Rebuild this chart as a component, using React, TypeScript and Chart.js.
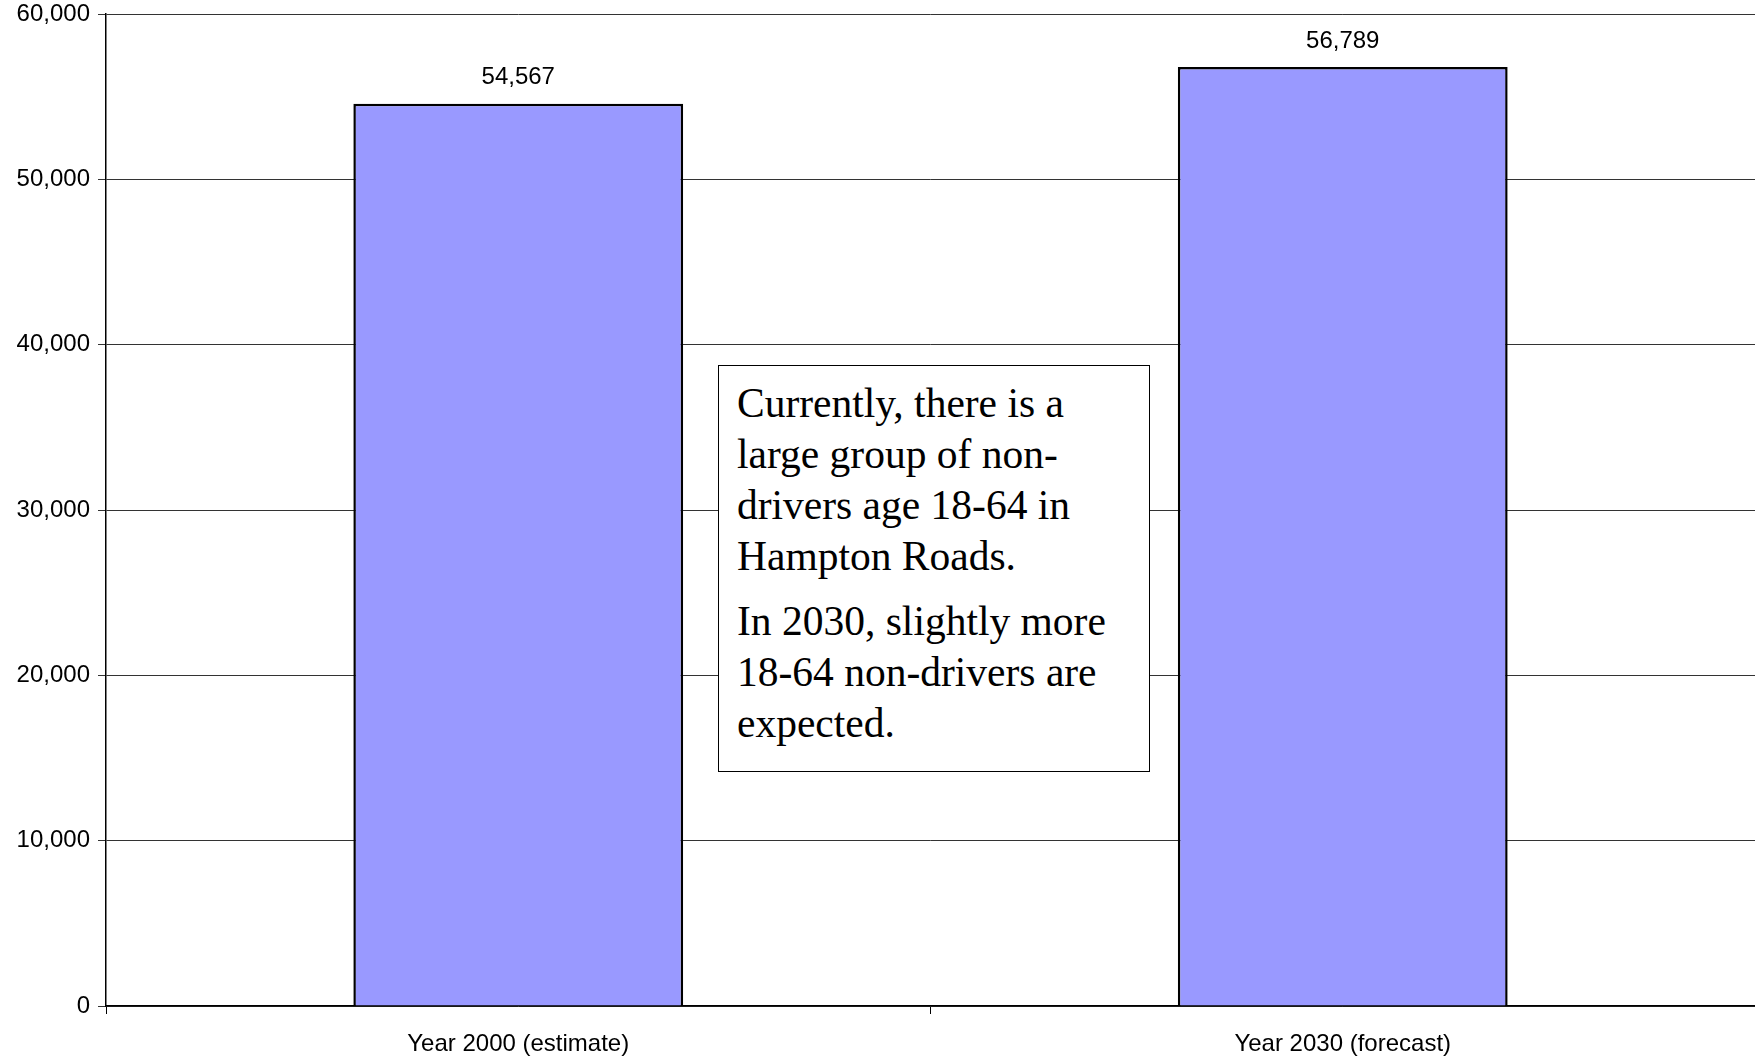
import React, { useEffect, useRef } from 'react';
import { Chart, registerables } from 'chart.js';

Chart.register(...registerables);

const categories = ['Year 2000 (estimate)', 'Year 2030 (forecast)'];
const nonDrivers = [54567, 56789];
const yTicks = [0, 10000, 20000, 30000, 40000, 50000, 60000];

const valueLabels = {
  id: 'valueLabels',
  afterDatasetsDraw(chart: any) {
    const ctx = chart.ctx;
    const meta = chart.getDatasetMeta(0);
    ctx.save();
    ctx.font = '24px Arial, "Liberation Sans", sans-serif';
    ctx.fillStyle = '#000';
    ctx.textAlign = 'center';
    ctx.textBaseline = 'bottom';
    meta.data.forEach((bar: any, i: number) => {
      ctx.fillText(nonDrivers[i].toLocaleString('en-US'), bar.x, bar.y - 14);
    });
    ctx.restore();
  },
};

const App: React.FC = () => {
  const chartRef = useRef<HTMLCanvasElement>(null);

  useEffect(() => {
    if (!chartRef.current) return;
    document.body.style.margin = '0';
    const chart = new Chart(chartRef.current, {
      type: 'bar',
      data: {
        labels: categories,
        datasets: [
          {
            data: nonDrivers,
            backgroundColor: '#9999ff',
            borderColor: '#000',
            borderWidth: 2.5,
            barPercentage: 0.4,
            categoryPercentage: 1,
          },
        ],
      },
      options: {
        animation: false,
        responsive: true,
        maintainAspectRatio: false,
        layout: { padding: { top: 14, right: 0, left: 0, bottom: 0 } },
        plugins: { legend: { display: false }, tooltip: { enabled: false } },
        scales: {
          x: {
            afterFit: (s: any) => { s.height = 56; },
            grid: { offset: true, drawOnChartArea: false, color: '#000', tickLength: 8 },
            border: { color: '#000', width: 1.5 },
            ticks: { color: '#000', font: { size: 24, family: 'Arial, "Liberation Sans", sans-serif' }, padding: 16 },
          },
          y: {
            min: 0,
            max: 60000,
            afterFit: (s: any) => {
              s.width = 106;
              s.paddingTop = 0;
              s.paddingBottom = 0;
            },
            afterBuildTicks: (s: any) => { s.ticks = yTicks.map((v) => ({ value: v })); },
            grid: { color: '#333', tickLength: 8 },
            border: { color: '#000', width: 1.5 },
            ticks: {
              color: '#000',
              font: { size: 24, family: 'Arial, "Liberation Sans", sans-serif' },
              padding: 8,
              callback: (v: any) => Number(v).toLocaleString('en-US'),
            },
          },
        },
      },
      plugins: [valueLabels],
    });
    return () => chart.destroy();
  }, []);

  return (
    <div style={{ position: 'relative', width: 1755, height: 1062, background: '#fff' }}>
      <canvas ref={chartRef} />
      <div
        style={{
          position: 'absolute',
          left: 718,
          top: 365,
          width: 432,
          height: 407,
          boxSizing: 'border-box',
          border: '1.5px solid #000',
          background: '#fff',
          padding: '12px 18px',
          fontFamily: '"Times New Roman", "Liberation Serif", serif',
          fontSize: 41.5,
          lineHeight: '51px',
          color: '#000',
        }}
      >
        <div>Currently, there is a large group of non-drivers age 18-64 in Hampton Roads.</div>
        <div style={{ marginTop: 14 }}>In 2030, slightly more 18-64 non-drivers are expected.</div>
      </div>
    </div>
  );
};

export default App;
